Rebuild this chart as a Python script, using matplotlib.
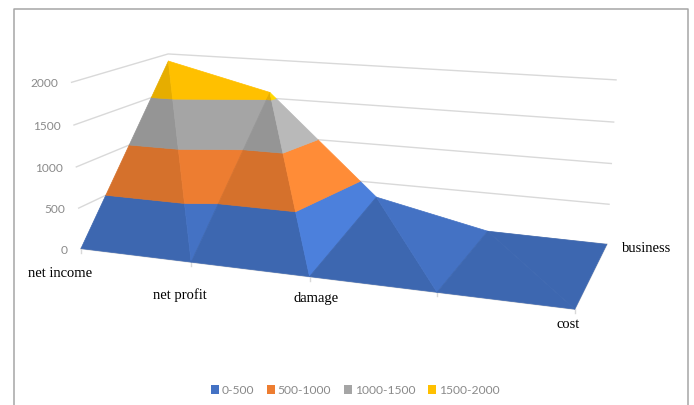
import numpy as np
import matplotlib
matplotlib.use("Agg")
import matplotlib.pyplot as plt
from matplotlib.collections import PolyCollection
from matplotlib.patches import Patch

# ---- data ----
categories = ["net income", "net profit", "damage", "", "cost"]
series_names = ["business", "cost"]
front_row = [0, 0, 0, 0, 0]
back_row = [1905, 1575, 310, 10, 0]
z_ticks = [0, 500, 1000, 1500, 2000]
band_labels = ["0-500", "500-1000", "1000-1500", "1500-2000"]
band_colors = ["#4472C4", "#ED7D31", "#A5A5A5", "#FFC000"]

# ---- style / layout ----
facet_shade = [0.90, 1.0, 0.90, 1.12, 0.90, 1.0, 0.90, 0.90]
calibration = [  # (category, depth, z) -> pixel position of the chart box
    ((0, 0, 0), (81, 250)), ((0, 0, 500), (79, 209)), ((0, 0, 1000), (77, 168)),
    ((0, 0, 1500), (73, 126)), ((0, 0, 2000), (72, 83)),
    ((1, 0, 0), (190, 263)), ((2, 0, 0), (311, 277)), ((3, 0, 0), (436, 294)),
    ((4, 0, 0), (575, 310)),
    ((4, 1, 0), (607, 245)), ((4, 1, 500), (610, 205)), ((4, 1, 1000), (610, 165)),
    ((4, 1, 1500), (613, 123)), ((4, 1, 2000), (617, 81)),
    ((0, 1, 2000), (168, 55)),
]
cat_label_offset = [(-21, 24), (-11, 32), (7, 21), (0, 20), (-7, 14)]
W, H = 694, 406


def fit_camera(pairs):
    rows = []
    for (c, d, z), (u, v) in pairs:
        z = z / 1000
        p = [c, d, z, 1]
        rows.append(p + [0, 0, 0, 0] + [-u * q for q in p])
        rows.append([0, 0, 0, 0] + p + [-v * q for q in p])
    return np.linalg.svd(np.array(rows, float))[2][-1].reshape(3, 4)


CAM = fit_camera(calibration)


def project(pts):
    pts = np.atleast_2d(np.array(pts, float))
    h = np.c_[pts[:, 0], pts[:, 1], pts[:, 2] / 1000, np.ones(len(pts))]
    q = (CAM @ h.T).T
    return q[:, :2] / q[:, 2:3]


def clip(poly, level, keep_above):
    out = []
    for i in range(len(poly)):
        a, b = np.array(poly[i]), np.array(poly[(i + 1) % len(poly)])
        ina = a[2] >= level if keep_above else a[2] <= level
        inb = b[2] >= level if keep_above else b[2] <= level
        if ina:
            out.append(a)
        if ina != inb:
            out.append(a + (b - a) * (level - a[2]) / (b[2] - a[2]))
    return out


def shade(color, k):
    rgb = np.array(matplotlib.colors.to_rgb(color))
    return tuple(np.clip(rgb * k, 0, 1))


fig = plt.figure(figsize=(W / 100, H / 100), dpi=100)
ax = fig.add_axes([0, 0, 1, 1])
ax.set_xlim(0, W)
ax.set_ylim(H, 0)
ax.axis("off")

# chart frame
ax.plot([14, 14, 688, 688], [H, 10, 10, H], color="#a6a6a6", lw=1.1)

# walls' gridlines
grid = "#d9d9d9"
n = len(categories) - 1
for z in z_ticks:
    p = project([(0, 0, z), (0, 1, z), (n, 1, z)])
    ax.plot(p[:, 0], p[:, 1], color=grid, lw=1, zorder=1)
    lab = project([(0, 0, z)])[0]
    ax.text(lab[0] - 13, lab[1] + 0.5, str(z), ha="right", va="center",
            family="Lato", fontsize=8.6, color="#8a8a8a")

# floor edges and ticks
p = project([(0, 0, 0), (n, 0, 0), (n, 1, 0)])
ax.plot(p[:, 0], p[:, 1], color=grid, lw=1.2, zorder=1)
for i, name in enumerate(categories):
    t = project([(i, 0, 0)])[0]
    ax.plot([t[0], t[0]], [t[1], t[1] + 4], color=grid, lw=1, zorder=1)
    dx, dy = cat_label_offset[i]
    ax.text(t[0] + dx, t[1] + dy, name, ha="center", va="center",
            family="Liberation Serif", fontsize=10.5, color="black")
e = project([(n, 1, 0)])[0]
ax.text(e[0] + 40, e[1] + 3, series_names[0], ha="center", va="center",
        family="Liberation Serif", fontsize=10.5, color="black")

# surface: each quad is split in two triangles, each cut in the value bands
F = [(i, 0, v) for i, v in enumerate(front_row)]
B = [(i, 1, v) for i, v in enumerate(back_row)]
tris = []
for i in range(n):
    tris.append([F[i], F[i + 1], B[i]])
    tris.append([F[i + 1], B[i], B[i + 1]])

polys, cols = [], []
for tri, k in zip(tris, facet_shade):
    for b, color in enumerate(band_colors):
        lo, hi = b * 500, (b + 1) * 500
        poly = clip(clip(tri, lo, True), hi, False)
        if len(poly) >= 3:
            polys.append(project(poly))
            cols.append(shade(color, k))
ax.add_collection(PolyCollection(polys, facecolors=cols, edgecolors=cols,
                                 linewidths=0.5, zorder=3))

handles = [Patch(facecolor=c, edgecolor="none") for c in band_colors]
ax.legend(handles, band_labels, loc="center", bbox_to_anchor=(355 / W, 1 - 391 / H),
          ncol=4, frameon=False, handlelength=0.7, handleheight=0.7,
          handletextpad=0.2, columnspacing=1.05, borderpad=0,
          prop={"family": "Lato", "size": 8.7}, labelcolor="#8a8a8a")

fig.savefig("out.png", dpi=100)
